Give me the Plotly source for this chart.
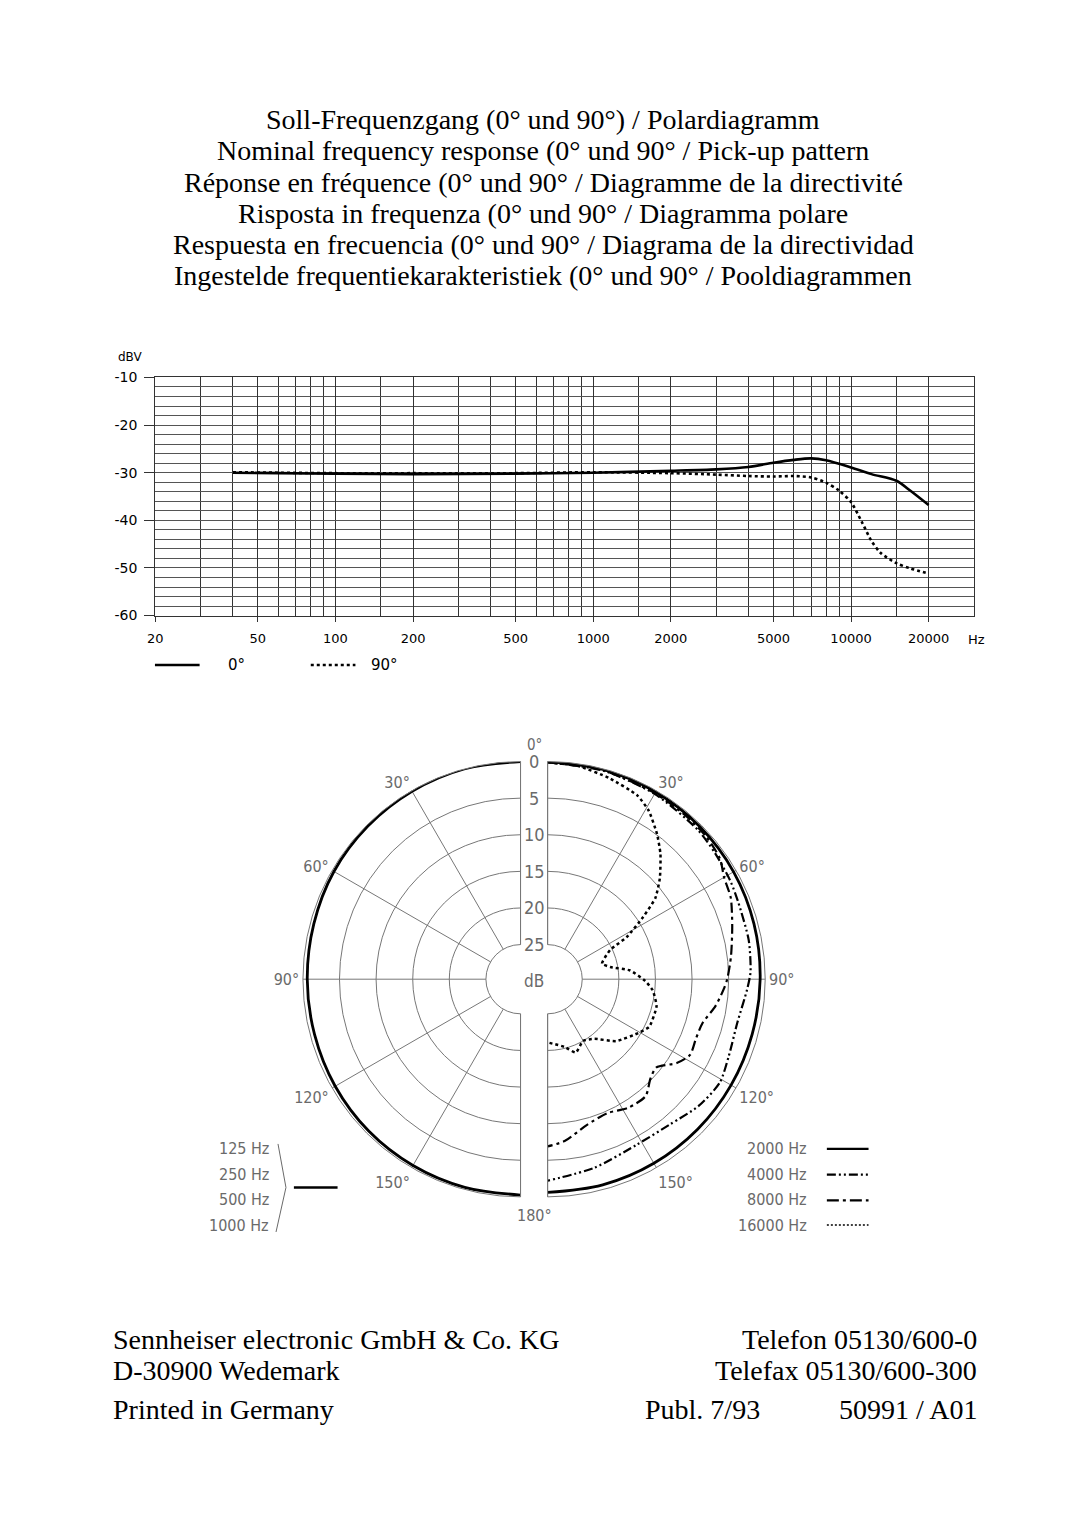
import numpy as np
import plotly.graph_objects as go

# page is 1080x1528; the html body keeps its default 8px margin
PAGE_W, PAGE_H = 1080, 1528
OFF = 8
W, H = PAGE_W - 2 * OFF, PAGE_H - 2 * OFF

# ---- frequency response (dBV) ----
freq_0 = [40, 60, 100, 200, 500, 1000, 2000, 3000, 4000, 5000, 6000, 7000, 8000,
          10000, 12000, 15000, 17000, 20000]
level_0 = [-30.0, -30.1, -30.2, -30.3, -30.2, -30.0, -29.6, -29.3, -28.8, -27.9, -27.3,
           -27.0, -27.4, -28.9, -30.3, -31.7, -33.8, -36.8]
freq_90 = [40, 100, 200, 500, 1000, 2000, 3000, 4000, 5000, 6000, 7000, 8000, 9000,
           10000, 11000, 12000, 13000, 15000, 17000, 20000]
level_90 = [-29.9, -30.1, -30.1, -30.1, -29.9, -30.1, -30.4, -30.7, -30.8, -30.7, -31.0,
            -32.1, -33.8, -36.2, -40.3, -44.3, -46.8, -49.0, -50.1, -51.2]

x_major = [20, 50, 100, 200, 500, 1000, 2000, 5000, 10000, 20000]
x_minor = [30, 40, 60, 70, 80, 90, 150, 300, 400, 600, 700, 800, 900, 1500, 3000,
           4000, 6000, 7000, 8000, 9000, 15000, 30000]
y_major = [-60, -50, -40, -30, -20, -10]

# ---- polar pattern, attenuation in dB vs angle ----
ang_low = [0, 15, 30, 45, 60, 75, 90, 105, 120, 135, 150, 165, 180]
att_low = [0.0, 0.0, 0.1, 0.2, 0.3, 0.5, 0.6, 0.6, 0.5, 0.4, 0.35, 0.3, 0.25]

ang_2k = [0, 15, 30, 45, 60, 75, 90, 105, 120, 135, 150, 165, 180]
att_2k = [0.0, 0.1, 0.2, 0.3, 0.4, 0.55, 0.7, 0.8, 0.8, 0.75, 0.7, 0.65, 0.6]

ang_4k = [0, 15, 30, 45, 53, 62, 68, 79, 88, 93, 103, 113, 121, 130, 140, 152, 166, 180]
att_4k = [0.1, 0.25, 0.5, 0.8, 1.1, 1.4, 1.65, 1.75, 2.0, 2.45, 3.15, 2.85, 2.3, 2.8,
          3.8, 4.05, 3.2, 2.2]

ang_8k = [0, 15, 30, 40, 48, 55, 60, 66, 74, 83, 90, 93, 99, 106, 112, 118, 123, 129,
          134, 140, 148, 156, 165, 174, 180]
att_8k = [0.1, 0.2, 0.4, 0.5, 0.6, 1.0, 1.9, 2.35, 3.5, 4.5, 5.2, 5.6, 6.5, 7.75, 7.9,
          7.7, 8.7, 10.6, 10.2, 8.9, 9.0, 9.7, 9.1, 7.5, 6.9]

ang_16k = [0, 8, 17, 26, 31, 37, 42, 48, 53, 57, 62, 65, 74, 79, 84, 91, 96, 104, 115,
           120, 132, 142, 150, 159, 166, 180]
att_16k = [0.1, 0.3, 1.0, 1.8, 2.9, 4.9, 6.7, 9.1, 11.3, 14.2, 17.5, 20.3, 22.0, 21.0,
           18.4, 16.4, 15.3, 14.4, 14.4, 15.2, 17.1, 19.4, 20.0, 19.0, 20.2, 21.1]

ring_db = [0, 5, 10, 15, 20, 25]
angle_ticks = [0, 30, 60, 90, 120, 150, 180]
angle_text = ["", "30°", "60°", "90°", "120°", "150°", ""]


def px(x):
    return (x - OFF) / W


def py(y):
    return 1 - (y - OFF) / H


SERIF = "Liberation Serif, DejaVu Serif, serif"
SANS = "DejaVu Sans, Verdana, sans-serif"
NARROW = "DejaVu Sans Condensed, Liberation Sans Narrow, Roboto Condensed, Roboto, sans-serif"
GREY = "#6a6a6a"

fig = go.Figure()

fig.add_trace(go.Scatter(x=freq_0, y=level_0, mode="lines", line=dict(color="black", width=2.6, shape="spline", smoothing=0.8)))
fig.add_trace(go.Scatter(x=freq_90, y=level_90, mode="lines", line=dict(color="black", width=2.6, dash="dot", shape="spline", smoothing=0.8)))

fig.add_trace(go.Scatterpolar(r=att_low, theta=ang_low, subplot="polar", mode="lines",
                              line=dict(color="black", width=2.8, shape="spline")))
fig.add_trace(go.Scatterpolar(r=att_2k, theta=ang_2k, subplot="polar2", mode="lines",
                              line=dict(color="black", width=2.8, shape="spline")))
fig.add_trace(go.Scatterpolar(r=att_4k, theta=ang_4k, subplot="polar2", mode="lines",
                              line=dict(color="black", width=2.2, dash="9px,3px,2px,3px,2px,3px", shape="spline", smoothing=0.7)))
fig.add_trace(go.Scatterpolar(r=att_8k, theta=ang_8k, subplot="polar2", mode="lines",
                              line=dict(color="black", width=2.2, dash="10px,4px,3px,4px", shape="spline", smoothing=0.7)))
fig.add_trace(go.Scatterpolar(r=att_16k, theta=ang_16k, subplot="polar2", mode="lines",
                              line=dict(color="black", width=2.5, dash="3px,3px", shape="spline", smoothing=0.5)))

R0 = 220
cy = 981.5
polar_base = dict(
    bgcolor="white",
    hole=35 / R0,
    radialaxis=dict(range=[25, 0], tickvals=ring_db, showticklabels=False, ticks="",
                    showline=False, gridcolor="#777", gridwidth=1),
)
ang_base = dict(rotation=90, tickvals=angle_ticks, ticktext=angle_text, ticks="",
                showline=True, linecolor="#777", linewidth=1, gridcolor="#777", gridwidth=1,
                tickfont=dict(family=NARROW, size=16, color=GREY))

fig.update_layout(
    width=W, height=H, margin=dict(l=0, r=0, t=0, b=0),
    paper_bgcolor="white", plot_bgcolor="white", showlegend=False,
    xaxis=dict(type="log", range=[np.log10(20), np.log10(30000)],
               domain=[px(148.3), px(973.3)],
               tickvals=x_major, ticktext=[str(v) for v in x_major],
               ticks="outside", ticklen=5, tickcolor="#333", ticklabelstandoff=6,
               showgrid=True, gridcolor="#333", gridwidth=1,
               minor=dict(tickvals=x_minor, showgrid=True, gridcolor="#333", ticks=""),
               showline=True, mirror=True, linecolor="#333", zeroline=False,
               tickfont=dict(family=SANS, size=13, color="black")),
    yaxis=dict(range=[-60, -10], domain=[py(614), py(373.3)],
               tickvals=y_major, ticktext=[str(v) for v in y_major],
               ticks="outside", ticklen=10, tickcolor="#333", ticklabelstandoff=4,
               showgrid=True, gridcolor="#555", gridwidth=1,
               minor=dict(dtick=2, showgrid=True, gridcolor="#555", ticks=""),
               showline=True, mirror=True, linecolor="#333", zeroline=False,
               tickfont=dict(family=SANS, size=14, color="black")),
    polar=dict(polar_base, domain=dict(x=[px(516.7 - R0), px(516.7)], y=[py(cy + R0), py(cy - R0)]),
               sector=[90, 270], angularaxis=dict(ang_base, direction="counterclockwise")),
    polar2=dict(polar_base, domain=dict(x=[px(543.3), px(543.3 + R0)], y=[py(cy + R0), py(cy - R0)]),
                sector=[-90, 90], angularaxis=dict(ang_base, direction="clockwise")),
)

ann = []
titles = [
    "Soll-Frequenzgang (0° und 90°) / Polardiagramm",
    "Nominal frequency response (0° und 90° / Pick-up pattern",
    "Réponse en fréquence (0° und 90° / Diagramme de la directivité",
    "Risposta in frequenza (0° und 90° / Diagramma polare",
    "Respuesta en frecuencia (0° und 90° / Diagrama de la directividad",
    "Ingestelde frequentiekarakteristiek (0° und 90° / Pooldiagrammen",
]
for i, t in enumerate(titles):
    ann.append(dict(x=px(539), y=py(113 + i * 31.4), text=t, font=dict(family=SERIF, size=28, color="black")))

ann.append(dict(x=px(123), y=py(353), text="dBV", font=dict(family=SANS, size=12, color="black")))
ann.append(dict(x=px(965), y=py(638), text="Hz", xanchor="left", font=dict(family=SANS, size=13, color="black")))
ann.append(dict(x=px(220), y=py(664), text="0°", xanchor="left", font=dict(family=SANS, size=15, color="black")))
ann.append(dict(x=px(364), y=py(664), text="90°", xanchor="left", font=dict(family=SANS, size=15, color="black")))

ann.append(dict(x=px(530), y=py(745), text="0°", font=dict(family=NARROW, size=15, color=GREY)))
ann.append(dict(x=px(530), y=py(1220), text="180°", font=dict(family=NARROW, size=16, color=GREY)))
ann.append(dict(x=px(530), y=py(983), text="dB", font=dict(family=NARROW, size=17, color=GREY)))
for d in ring_db:
    ann.append(dict(x=px(530), y=py(cy - R0 + d * (R0 - 35) / 25), text=str(d),
                    font=dict(family=NARROW, size=18, color=GREY)))

low_labels = ["125 Hz", "250 Hz", "500 Hz", "1000 Hz"]
high_labels = ["2000 Hz", "4000 Hz", "8000 Hz", "16000 Hz"]
leg_y = [1153, 1179, 1204, 1230]
for lab, yy in zip(low_labels, leg_y):
    ann.append(dict(x=px(265), y=py(yy), text=lab, xanchor="right", font=dict(family=NARROW, size=16, color=GREY)))
for lab, yy in zip(high_labels, leg_y):
    ann.append(dict(x=px(807), y=py(yy), text=lab, xanchor="right", font=dict(family=NARROW, size=16, color=GREY)))

foot = dict(family=SERIF, size=28, color="black")
ann += [
    dict(x=px(104), y=py(1346), text="Sennheiser electronic GmbH & Co. KG", xanchor="left", font=foot),
    dict(x=px(104), y=py(1377), text="D-30900 Wedemark", xanchor="left", font=foot),
    dict(x=px(104), y=py(1416), text="Printed in Germany", xanchor="left", font=foot),
    dict(x=px(978), y=py(1346), text="Telefon 05130/600-0", xanchor="right", font=foot),
    dict(x=px(978), y=py(1377), text="Telefax 05130/600-300", xanchor="right", font=foot),
    dict(x=px(640), y=py(1416), text="Publ. 7/93", xanchor="left", font=foot),
    dict(x=px(978), y=py(1416), text="50991 / A01", xanchor="right", font=foot),
]
for a in ann:
    a.update(xref="paper", yref="paper", showarrow=False)
    a.setdefault("xanchor", "center")
    a.setdefault("yanchor", "middle")
fig.update_layout(annotations=ann)

shapes = [
    dict(type="line", x0=px(148), x1=px(193), y0=py(664), y1=py(664), line=dict(color="black", width=2.6)),
    dict(type="line", x0=px(305), x1=px(350), y0=py(664), y1=py(664), line=dict(color="black", width=2.6, dash="3px,3px")),
    dict(type="path", path=f"M {px(272)},{py(1148)} L {px(280)},{py(1192)} L {px(270)},{py(1237)}",
         line=dict(color=GREY, width=1)),
    dict(type="line", x0=px(288), x1=px(332), y0=py(1192), y1=py(1192), line=dict(color="black", width=2.6)),
    dict(type="line", x0=px(825), x1=px(867), y0=py(1153), y1=py(1153), line=dict(color="black", width=2.4)),
    dict(type="line", x0=px(825), x1=px(867), y0=py(1179), y1=py(1179), line=dict(color="black", width=2.2, dash="9px,3px,2px,3px,2px,3px")),
    dict(type="line", x0=px(825), x1=px(867), y0=py(1205), y1=py(1205), line=dict(color="black", width=2.2, dash="12px,4px,3px,4px")),
    dict(type="line", x0=px(825), x1=px(867), y0=py(1230), y1=py(1230), line=dict(color="black", width=1.6, dash="2px,2px")),
]
for s in shapes:
    s.update(xref="paper", yref="paper")
fig.update_layout(shapes=shapes)

fig.write_html("out.html", config={"displayModeBar": False})
